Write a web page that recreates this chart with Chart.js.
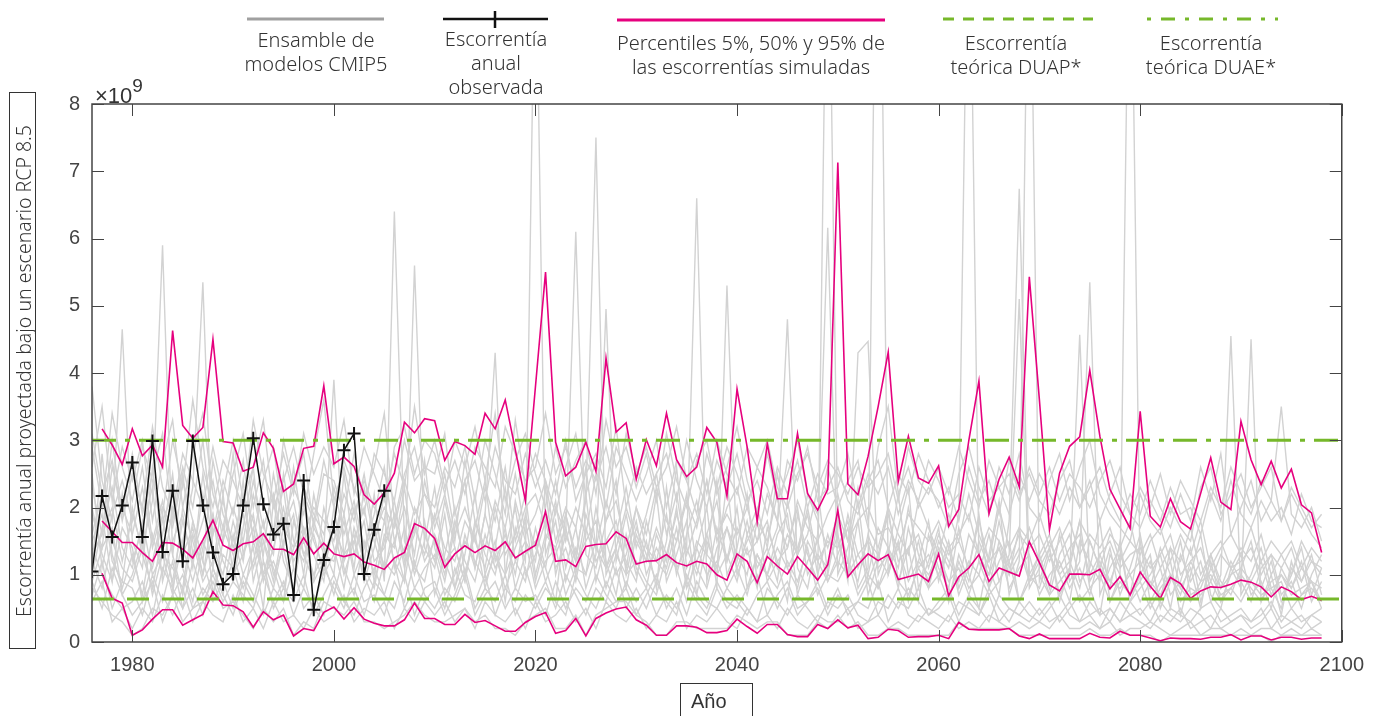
<!DOCTYPE html>
<html lang="es">
<head>
<meta charset="utf-8">
<title>Escorrentía anual proyectada RCP 8.5</title>
<script src="https://cdn.jsdelivr.net/npm/chart.js@4.4.1/dist/chart.umd.min.js"></script>
<style>
  body { margin: 0; background: #fff; }
  #wrap { position: relative; width: 1375px; height: 716px; overflow: hidden; }
  canvas { position: absolute; left: 0; top: 0; }
  .leg { position: absolute; text-align: center; font-family: 'Noto Sans', sans-serif; font-weight: 300;
         font-size: 20px; line-height: 24px; color: #333; white-space: nowrap; transform: translateX(-50%); }
  #ytitle { position: absolute; left: 9px; top: 92px; width: 27px; height: 557px; border: 1px solid #333; box-sizing: border-box; }
  #ytitle span { position: absolute; left: 50%; top: 50%; transform: translate(-50%, -50%) rotate(-90deg);
                 font-family: 'Noto Sans', sans-serif; font-weight: 300; font-size: 19.5px; color: #333; white-space: nowrap; }
  #xtitle { position: absolute; left: 680px; top: 683px; width: 73px; height: 40px; border: 1px solid #333; box-sizing: border-box;
            font-family: 'Liberation Sans', Arial, sans-serif; font-size: 20px; color: #333; padding: 6px 0 0 10px; }
  #expo { position: absolute; left: 95px; top: 78px; font-family: 'Liberation Sans', Arial, sans-serif; font-size: 22px; color: #333; }
  #expo sup { font-size: 19px; position: relative; top: -3px; }
</style>
</head>
<body>
<div id="wrap">
  <canvas id="chart" width="1375" height="716"></canvas>

  <svg width="1375" height="32" style="position:absolute;left:0;top:0">
    <line x1="247" y1="19" x2="384" y2="19" stroke="#a0a0a0" stroke-width="3"/>
    <line x1="443" y1="19" x2="548" y2="19" stroke="#111" stroke-width="2.5"/>
    <line x1="495" y1="11" x2="495" y2="28" stroke="#111" stroke-width="2.5"/>
    <line x1="617" y1="20" x2="885" y2="20" stroke="#e6007e" stroke-width="3"/>
    <line x1="943" y1="19" x2="1093" y2="19" stroke="#76b82a" stroke-width="3" stroke-dasharray="11 9"/>
    <line x1="1147" y1="19" x2="1278" y2="19" stroke="#76b82a" stroke-width="3" stroke-dasharray="4 10 14 10"/>
  </svg>
  <div class="leg" style="left:316px;top:28px">Ensamble de<br>modelos CMIP5</div>
  <div class="leg" style="left:496px;top:27px">Escorrentía<br>anual<br>observada</div>
  <div class="leg" style="left:751px;top:31px">Percentiles 5%, 50% y 95% de<br>las escorrentías simuladas</div>
  <div class="leg" style="left:1016px;top:31px">Escorrentía<br>teórica DUAP*</div>
  <div class="leg" style="left:1211px;top:31px">Escorrentía<br>teórica DUAE*</div>

  <div id="expo">×10<sup>9</sup></div>
  <div id="ytitle"><span>Escorrentía anual proyectada bajo un escenario RCP 8.5</span></div>
  <div id="xtitle">Año</div>
</div>

<script>
// Years
const ensembleStart = 1976;   // gray model runs, 1976-2098
const pctStart = 1977;        // percentiles, 1977-2098
const obsStart = 1976;        // observed, 1976-2005
const xTicks = [1980, 2000, 2020, 2040, 2060, 2080, 2100];
const yTicks = [0, 1, 2, 3, 4, 5, 6, 7, 8];

// Theoretical runoff levels (x10^9)
const duap = 0.64;
const duae = 3.0;

// Observed annual runoff (x10^9)
const observed = [1.05, 2.17, 1.56, 2.03, 2.67, 1.56, 2.99, 1.34, 2.25, 1.20, 2.99, 2.03, 1.33, 0.86, 1.01,
  2.03, 3.03, 2.05, 1.60, 1.76, 0.70, 2.40, 0.48, 1.22, 1.71, 2.85, 3.10, 1.01, 1.67, 2.25];

// Percentiles of simulated runoff
const p95 = [3.17, 2.93, 2.64,
  3.17, 2.77, 2.93, 2.60, 4.63, 3.22, 3.03, 3.19, 4.50, 2.98,
  2.96, 2.54, 2.60, 3.11, 2.88, 2.24, 2.35, 2.88, 2.91, 3.81,
  2.65, 2.75, 2.61, 2.19, 2.05, 2.22, 2.51, 3.27, 3.11, 3.32,
  3.29, 2.70, 2.98, 2.92, 2.79, 3.40, 3.17, 3.60, 2.86, 2.10,
  3.80, 5.50, 2.97, 2.47, 2.60, 2.97, 2.54, 4.22, 3.12, 3.26,
  2.42, 3.01, 2.62, 3.40, 2.71, 2.46, 2.60, 3.19, 2.97, 2.17,
  3.76, 2.90, 1.79, 2.95, 2.13, 2.13, 3.10, 2.21, 1.96, 2.27,
  7.13, 2.35, 2.19, 2.76, 3.50, 4.31, 2.39, 3.06, 2.44, 2.36,
  2.62, 1.72, 1.97, 3.00, 3.88, 1.91, 2.42, 2.75, 2.31, 5.43,
  3.60, 1.67, 2.51, 2.91, 3.05, 4.04, 3.06, 2.27, 1.98, 1.69,
  3.43, 1.87, 1.71, 2.13, 1.79, 1.68, 2.21, 2.74, 2.08, 1.97,
  3.28, 2.71, 2.34, 2.69, 2.29, 2.57, 2.04, 1.92, 1.33];
const p50 = [1.80, 1.64, 1.48,
  1.48, 1.33, 1.20, 1.48, 1.47, 1.38, 1.25, 1.52, 1.81, 1.44,
  1.36, 1.46, 1.49, 1.61, 1.38, 1.38, 1.30, 1.55, 1.31, 1.47,
  1.31, 1.27, 1.31, 1.19, 1.14, 1.08, 1.25, 1.33, 1.76, 1.69,
  1.54, 1.11, 1.31, 1.43, 1.33, 1.43, 1.36, 1.49, 1.25, 1.35,
  1.44, 1.94, 1.20, 1.22, 1.12, 1.42, 1.45, 1.46, 1.64, 1.54,
  1.16, 1.20, 1.21, 1.30, 1.18, 1.13, 1.20, 1.16, 1.00, 0.92,
  1.31, 1.20, 0.88, 1.27, 1.13, 1.01, 1.27, 1.10, 0.92, 1.15,
  1.96, 0.97, 1.15, 1.31, 1.21, 1.30, 0.93, 0.97, 1.01, 0.90,
  1.31, 0.69, 0.97, 1.10, 1.30, 0.90, 1.10, 1.04, 0.98, 1.49,
  1.18, 0.85, 0.76, 1.01, 1.01, 1.00, 1.08, 0.79, 0.97, 0.70,
  1.04, 0.83, 0.65, 0.96, 0.87, 0.65, 0.76, 0.82, 0.81, 0.86,
  0.92, 0.89, 0.82, 0.67, 0.82, 0.75, 0.63, 0.68, 0.62];
const p5 = [1.02, 0.65, 0.58,
  0.10, 0.18, 0.34, 0.48, 0.48, 0.25, 0.33, 0.41, 0.75, 0.55,
  0.54, 0.45, 0.22, 0.45, 0.33, 0.40, 0.09, 0.20, 0.17, 0.44,
  0.52, 0.34, 0.51, 0.34, 0.28, 0.24, 0.24, 0.33, 0.58, 0.35,
  0.35, 0.26, 0.26, 0.41, 0.29, 0.32, 0.24, 0.16, 0.16, 0.29,
  0.38, 0.44, 0.13, 0.17, 0.35, 0.09, 0.35, 0.43, 0.49, 0.52,
  0.33, 0.25, 0.10, 0.10, 0.24, 0.24, 0.22, 0.14, 0.14, 0.17,
  0.34, 0.23, 0.13, 0.26, 0.26, 0.11, 0.08, 0.08, 0.26, 0.20,
  0.33, 0.21, 0.25, 0.05, 0.07, 0.19, 0.17, 0.07, 0.08, 0.08,
  0.10, 0.05, 0.29, 0.19, 0.18, 0.18, 0.18, 0.20, 0.09, 0.05,
  0.12, 0.05, 0.05, 0.05, 0.05, 0.13, 0.07, 0.06, 0.16, 0.10,
  0.10, 0.06, 0.02, 0.06, 0.05, 0.05, 0.04, 0.07, 0.07, 0.11,
  0.03, 0.09, 0.09, 0.03, 0.07, 0.07, 0.04, 0.06, 0.06];

// CMIP5 model ensemble (a subset of runs, x10^9)
const gray01 = [1.2, 0.8, 1.5, 1.1,
  0.9, 1.4, 2.1, 5.9, 1.3, 0.7, 1.6, 1.0, 1.9, 0.8,
  1.2, 2.4, 0.9, 1.5, 1.1, 0.6, 1.8, 1.3, 0.9, 2.0,
  1.4, 0.8, 1.7, 1.2, 2.2, 0.9, 6.4, 1.5, 1.1, 1.8,
  0.7, 1.3, 2.0, 1.0, 1.6, 0.8, 1.4, 2.3, 1.2, 0.9,
  1.7, 1.1, 0.6, 1.9, 1.3, 2.1, 7.5, 1.0, 1.4, 0.8,
  1.6, 1.2, 2.2, 0.9, 1.3, 1.8, 0.7, 1.5, 1.1, 2.4,
  1.0, 1.4, 0.8, 1.7, 1.2, 0.6, 1.9, 1.3, 0.9, 12.0,
  1.5, 1.0, 1.8, 0.7, 1.2, 2.0, 0.9, 1.4, 0.6, 1.6,
  1.1, 0.8, 1.7, 1.0, 0.5, 1.3, 2.1, 0.7, 1.2, 12.0,
  0.9, 1.4, 0.6, 1.1, 1.8, 0.8, 0.4, 1.3, 1.0, 0.7,
  1.5, 0.6, 0.9, 1.2, 0.4, 1.0, 1.6, 0.7, 0.5, 1.1,
  0.8, 4.5, 0.6, 1.0, 0.4, 1.2, 0.7, 0.9, 0.5];
const gray02 = [2.0, 1.3, 0.9, 1.7,
  1.4, 0.6, 1.2, 1.9, 0.8, 1.5, 2.3, 5.35, 1.1, 0.7,
  1.6, 1.0, 1.4, 0.5, 2.1, 1.2, 0.8, 1.7, 1.3, 0.9,
  2.0, 1.1, 0.7, 1.5, 1.0, 1.8, 1.2, 0.9, 5.6, 1.4,
  1.1, 1.9, 0.8, 1.3, 2.2, 1.0, 1.5, 0.6, 1.7, 1.2,
  11.0, 1.3, 1.8, 0.9, 1.4, 1.0, 2.0, 1.2, 0.7, 1.6,
  1.0, 1.5, 0.8, 2.3, 1.1, 1.4, 6.6, 0.9, 1.7, 1.2,
  2.0, 0.8, 1.3, 1.0, 1.6, 1.9, 0.7, 1.2, 1.5, 0.9,
  1.3, 1.7, 0.8, 1.1, 14.0, 1.0, 1.5, 0.6, 1.2, 1.8,
  0.9, 1.4, 0.7, 1.1, 1.9, 0.8, 1.2, 1.5, 0.6, 1.0,
  1.3, 0.8, 1.6, 0.9, 1.2, 5.35, 0.7, 1.1, 1.4, 0.6,
  1.0, 1.3, 0.5, 0.9, 1.5, 0.7, 0.8, 1.2, 0.6, 1.0,
  1.3, 0.7, 0.9, 0.5, 1.1, 0.8, 1.2, 0.6, 0.9];
const gray03 = [3.8, 2.4, 1.8, 4.65,
  1.5, 1.1, 2.6, 1.4, 0.9, 1.8, 1.2, 2.2, 0.7, 1.5,
  2.8, 1.3, 1.9, 1.0, 1.6, 2.3, 1.1, 0.8, 1.7, 1.4,
  1.0, 2.5, 1.3, 1.8, 0.9, 1.5, 2.1, 1.2, 1.6, 2.7,
  1.4, 0.9, 1.7, 2.4, 1.1, 1.9, 1.3, 1.0, 2.1, 1.5,
  1.2, 2.3, 1.0, 1.6, 6.1, 1.3, 1.1, 1.8, 2.4, 1.0,
  1.7, 1.3, 0.9, 1.5, 2.6, 1.1, 1.4, 2.0, 0.8, 5.3,
  1.2, 1.8, 1.1, 1.4, 0.9, 2.1, 1.3, 1.6, 2.3, 1.0,
  1.8, 1.2, 0.9, 1.6, 1.1, 1.3, 2.2, 1.0, 1.5, 0.8,
  1.4, 1.1, 1.9, 12.0, 1.2, 0.8, 1.5, 1.0, 1.7, 0.9,
  1.2, 0.7, 1.3, 1.6, 0.9, 1.1, 1.8, 0.6, 1.0, 12.0,
  0.9, 1.2, 0.6, 1.4, 0.8, 1.1, 0.5, 1.3, 0.9, 0.7,
  1.1, 1.5, 0.8, 1.2, 0.6, 1.0, 1.4, 0.7, 1.1];
const gray04 = [1.6, 2.2, 1.2, 0.9,
  2.0, 1.3, 0.8, 1.6, 2.5, 1.1, 0.6, 1.4, 1.9, 1.2,
  0.9, 1.7, 2.6, 1.2, 0.8, 1.5, 1.9, 1.0, 2.2, 1.4,
  3.9, 1.2, 1.6, 0.9, 1.4, 2.2, 1.1, 1.7, 1.0, 1.5,
  2.3, 1.2, 0.8, 1.6, 1.1, 1.9, 4.3, 1.0, 1.4, 1.8,
  0.9, 1.5, 2.1, 1.1, 1.7, 0.8, 1.3, 4.95, 1.2, 1.9,
  1.1, 0.8, 1.6, 1.2, 2.0, 0.9, 1.5, 1.3, 2.4, 1.0,
  1.4, 2.2, 0.9, 1.3, 1.7, 4.8, 1.1, 0.8, 1.6, 6.16,
  1.0, 1.4, 2.1, 0.9, 1.3, 1.0, 1.7, 2.3, 0.8, 1.2,
  1.7, 0.6, 1.3, 0.9, 1.5, 1.1, 0.7, 1.8, 6.74, 1.0,
  0.8, 1.3, 1.0, 0.6, 1.5, 1.2, 0.9, 1.4, 0.7, 1.1,
  1.6, 0.8, 1.1, 0.5, 1.3, 0.9, 1.2, 0.6, 1.0, 4.55,
  0.7, 1.0, 1.4, 0.8, 0.5, 1.1, 0.9, 1.3, 0.7];
const gray05 = [1.0, 1.7, 2.3, 1.4,
  1.1, 1.8, 1.0, 1.3, 0.7, 2.0, 1.5, 0.9, 1.2, 1.7,
  1.3, 0.8, 1.2, 1.8, 1.0, 1.4, 0.7, 2.1, 1.5, 1.1,
  1.7, 1.3, 2.0, 1.1, 0.8, 1.6, 1.4, 2.3, 1.1, 0.9,
  1.6, 1.2, 1.4, 0.9, 1.8, 1.3, 1.0, 1.7, 0.8, 1.3,
  1.5, 0.9, 1.3, 1.7, 1.0, 1.9, 1.4, 1.1, 1.6, 1.2,
  0.9, 1.8, 1.2, 1.0, 1.5, 2.2, 1.1, 0.8, 1.4, 1.7,
  1.1, 1.5, 1.8, 0.9, 1.2, 1.4, 2.0, 1.0, 1.3, 1.1,
  1.6, 0.9, 4.3, 4.47, 1.0, 1.4, 0.8, 1.7, 1.1, 1.3,
  1.0, 1.5, 0.8, 1.2, 1.0, 1.6, 0.9, 1.3, 5.1, 0.8,
  1.1, 1.4, 0.7, 1.0, 4.57, 0.9, 1.2, 0.8, 1.5, 0.6,
  0.8, 1.0, 1.3, 0.7, 0.9, 1.4, 0.6, 1.1, 0.8, 1.2,
  0.9, 0.6, 1.1, 1.3, 0.7, 0.9, 0.5, 1.0, 1.3];
const gray06 = [2.6, 3.5, 2.1, 2.9,
  2.4, 3.0, 1.8, 2.7, 3.3, 2.0, 2.8, 3.4, 2.2, 1.7,
  2.5, 3.1, 2.0, 2.7, 1.6, 3.0, 2.3, 1.9, 2.8, 3.6,
  2.1, 2.6, 1.9, 2.4, 2.0, 1.8, 2.9, 3.2, 2.5, 3.0,
  2.8, 2.2, 3.0, 2.6, 3.2, 2.4, 3.4, 2.1, 2.7, 3.1,
  2.5, 2.0, 2.9, 2.3, 2.7, 3.0, 2.2, 3.3, 2.6, 2.9,
  2.3, 2.8, 2.1, 3.1, 2.4, 2.0, 2.7, 3.0, 2.2, 2.6,
  3.2, 2.4, 1.9, 2.8, 2.1, 2.5, 3.0, 2.2, 1.9, 2.6,
  2.0, 2.4, 2.7, 1.8, 2.9, 3.5, 2.2, 2.6, 2.0, 2.3,
  2.1, 1.7, 2.5, 2.9, 2.3, 1.9, 2.6, 2.2, 2.8, 2.0,
  1.8, 2.4, 2.8, 2.1, 2.6, 3.0, 2.2, 1.9, 1.7, 1.5,
  2.2, 1.8, 1.6, 2.0, 1.7, 1.5, 2.3, 2.6, 1.9, 2.2,
  2.5, 2.0, 2.3, 2.6, 1.8, 2.2, 1.9, 1.6, 1.4];
const gray07 = [0.8, 0.6, 0.4, 0.3,
  0.1, 0.2, 0.5, 0.4, 0.7, 0.3, 0.5, 0.6, 0.9, 0.5,
  0.6, 0.4, 0.2, 0.5, 0.3, 0.5, 0.1, 0.3, 0.2, 0.6,
  0.5, 0.4, 0.6, 0.3, 0.3, 0.2, 0.3, 0.4, 0.6, 0.4,
  0.3, 0.3, 0.4, 0.5, 0.3, 0.4, 0.2, 0.2, 0.1, 0.3,
  0.4, 0.5, 0.2, 0.2, 0.4, 0.1, 0.4, 0.5, 0.6, 0.6,
  0.4, 0.3, 0.1, 0.1, 0.3, 0.3, 0.2, 0.2, 0.2, 0.2,
  0.4, 0.3, 0.2, 0.3, 0.3, 0.1, 0.1, 0.1, 0.3, 0.2,
  0.4, 0.2, 0.3, 0.1, 0.1, 0.2, 0.2, 0.1, 0.1, 0.1,
  0.1, 0.1, 0.3, 0.2, 0.2, 0.2, 0.2, 0.2, 0.1, 0.1,
  0.1, 0.1, 0.1, 0.1, 0.1, 0.2, 0.1, 0.1, 0.2, 0.1,
  0.1, 0.1, 0.0, 0.1, 0.1, 0.1, 0.1, 0.1, 0.1, 0.1,
  0.1, 0.1, 0.1, 0.0, 0.1, 0.1, 0.1, 0.1, 0.1];
const gray08 = [1.4, 1.0, 0.7, 0.5,
  0.6, 0.9, 0.4, 1.1, 0.8, 0.5, 1.2, 0.7, 1.0, 0.6,
  0.9, 0.7, 0.5, 1.0, 0.6, 0.9, 0.4, 0.8, 0.5, 1.1,
  0.8, 0.5, 1.0, 0.6, 0.7, 0.4, 0.9, 0.6, 1.2, 0.7,
  0.5, 0.8, 0.6, 1.0, 0.4, 0.7, 0.9, 0.5, 0.8, 0.6,
  0.7, 0.4, 0.9, 0.5, 0.8, 0.6, 1.0, 0.7, 0.5, 0.9,
  0.6, 0.8, 0.4, 0.7, 0.5, 0.9, 0.6, 0.4, 0.8, 0.5,
  0.7, 0.5, 0.3, 0.8, 0.6, 0.4, 0.7, 0.5, 0.3, 0.6,
  0.5, 0.7, 0.4, 0.3, 0.6, 0.5, 0.8, 0.4, 0.3, 0.5,
  0.4, 0.3, 0.6, 0.5, 0.4, 0.7, 0.3, 0.5, 0.4, 0.3,
  0.5, 0.3, 0.4, 0.6, 0.3, 0.4, 0.2, 0.5, 0.3, 0.4,
  0.3, 0.2, 0.4, 0.3, 0.5, 0.2, 0.3, 0.4, 0.2, 0.3,
  0.4, 0.2, 0.3, 0.5, 0.2, 0.3, 0.4, 0.2, 0.3];
const gray09 = [1.9, 1.4, 2.6, 2.0,
  1.6, 2.3, 1.4, 2.0, 1.7, 2.5, 1.3, 1.8, 2.4, 1.5,
  2.0, 1.5, 2.4, 1.7, 2.2, 1.4, 2.6, 1.6, 2.0, 1.8,
  1.5, 2.2, 1.8, 2.5, 1.6, 2.0, 1.7, 2.4, 1.9, 2.2,
  1.8, 2.5, 1.6, 2.0, 1.5, 2.3, 1.8, 2.6, 1.5, 2.0,
  2.2, 1.7, 2.4, 1.5, 2.0, 1.6, 2.5, 1.8, 2.1, 1.4,
  2.0, 1.6, 2.3, 1.8, 1.5, 2.1, 1.7, 2.4, 1.6, 1.9,
  1.6, 2.0, 1.5, 2.2, 1.8, 1.4, 2.1, 1.7, 1.5, 1.9,
  2.2, 1.5, 1.8, 2.0, 1.6, 1.7, 1.4, 1.9, 1.7, 1.5,
  1.8, 1.4, 1.6, 1.9, 1.3, 1.7, 1.5, 1.2, 1.6, 1.4,
  1.6, 1.2, 1.5, 1.8, 1.3, 1.6, 1.4, 1.7, 1.2, 1.5,
  1.3, 1.6, 1.1, 1.4, 1.2, 1.7, 1.0, 1.3, 1.5, 1.1,
  1.4, 1.2, 1.6, 1.0, 1.3, 1.5, 1.1, 1.4, 1.2];
const gray10 = [1.1, 2.8, 1.3, 0.8,
  1.3, 0.7, 1.6, 1.0, 2.0, 1.4, 0.9, 1.5, 1.1, 2.2,
  1.0, 1.3, 1.7, 0.9, 1.4, 2.0, 1.2, 1.5, 1.0, 1.3,
  1.2, 1.8, 1.0, 1.4, 1.7, 1.1, 1.5, 0.9, 1.8, 1.2,
  1.5, 1.0, 1.8, 1.2, 0.9, 1.6, 1.1, 1.4, 2.0, 1.0,
  1.3, 1.8, 1.1, 1.4, 0.9, 1.7, 1.2, 1.5, 1.0, 1.3,
  1.8, 1.0, 1.4, 1.1, 1.7, 0.8, 1.2, 1.6, 1.0, 1.3,
  0.9, 1.6, 1.2, 1.0, 1.4, 1.1, 0.8, 1.5, 1.2, 0.9,
  1.2, 1.0, 1.3, 1.5, 0.8, 1.1, 1.4, 0.9, 1.2, 1.0,
  1.3, 0.9, 1.1, 0.7, 1.2, 1.0, 1.4, 0.8, 1.1, 1.3,
  0.7, 1.0, 1.2, 0.8, 1.1, 0.7, 1.3, 0.9, 0.8, 1.0,
  0.6, 0.9, 0.7, 1.0, 0.8, 0.6, 0.9, 1.0, 0.7, 0.8,
  1.0, 0.8, 0.6, 0.9, 1.0, 0.7, 0.8, 0.9, 0.6];
const gray11 = [2.3, 1.6, 3.0, 1.9,
  2.8, 1.9, 2.5, 3.1, 1.8, 2.6, 2.0, 3.0, 1.6, 2.4,
  1.9, 2.7, 1.5, 2.4, 2.9, 1.8, 2.3, 2.8, 1.7, 2.5,
  2.4, 1.9, 2.8, 2.1, 2.6, 3.4, 1.8, 2.5, 2.9, 2.2,
  2.0, 2.6, 2.3, 2.9, 2.1, 3.0, 2.5, 1.9, 3.3, 2.3,
  2.8, 2.4, 1.9, 2.6, 3.1, 2.2, 2.7, 2.0, 2.9, 2.5,
  2.1, 2.5, 3.0, 2.0, 2.7, 2.4, 1.9, 2.8, 2.3, 2.9,
  2.5, 2.0, 2.6, 2.3, 1.8, 2.7, 2.4, 2.9, 2.1, 2.3,
  2.6, 2.1, 1.9, 2.4, 2.7, 2.0, 2.5, 2.2, 2.8, 2.4,
  2.0, 2.3, 1.8, 2.6, 2.1, 2.4, 1.9, 2.7, 2.2, 2.5,
  2.1, 1.9, 2.4, 2.7, 2.0, 2.3, 2.6, 2.1, 1.8, 2.2,
  1.9, 2.4, 2.0, 1.7, 2.2, 1.8, 2.6, 2.1, 2.8, 1.6,
  2.0, 2.4, 1.8, 2.1, 3.5, 1.9, 1.7, 2.0, 1.5];
const gray12 = [0.9, 0.5, 1.1, 0.7,
  0.4, 0.6, 0.9, 0.3, 0.7, 1.0, 0.5, 0.8, 0.6, 0.9,
  0.5, 1.0, 0.7, 0.4, 0.8, 0.6, 1.1, 0.5, 0.7, 0.4,
  0.9, 0.6, 0.4, 0.8, 1.1, 0.7, 0.5, 1.0, 0.4, 0.8,
  0.9, 0.5, 1.1, 0.7, 0.6, 1.0, 0.4, 0.8, 0.6, 1.1,
  0.6, 0.9, 0.5, 1.0, 0.7, 0.4, 0.8, 0.6, 1.1, 0.5,
  0.8, 0.5, 0.9, 0.6, 0.4, 1.0, 0.7, 0.5, 0.9, 0.6,
  0.5, 0.8, 1.0, 0.4, 0.7, 0.9, 0.5, 0.6, 0.8, 0.4,
  0.7, 0.5, 0.6, 0.9, 0.4, 0.7, 0.5, 0.8, 0.6, 0.4,
  0.6, 0.8, 0.4, 0.7, 0.5, 0.3, 0.7, 0.5, 0.4, 0.6,
  0.4, 0.6, 0.3, 0.5, 0.7, 0.4, 0.5, 0.3, 0.6, 0.4,
  0.5, 0.3, 0.6, 0.4, 0.3, 0.5, 0.4, 0.2, 0.5, 0.3,
  0.4, 0.3, 0.5, 0.2, 0.4, 0.3, 0.2, 0.4, 0.3];
const gray13 = [1.5, 1.9, 0.9, 2.2,
  1.2, 1.7, 2.3, 0.9, 1.5, 1.9, 1.1, 2.5, 1.4, 1.0,
  1.8, 1.2, 2.2, 1.5, 0.9, 1.7, 2.1, 1.3, 1.6, 1.0,
  1.3, 1.9, 1.1, 2.3, 1.5, 1.0, 1.8, 1.3, 2.0, 1.6,
  1.2, 2.1, 1.4, 0.9, 1.7, 2.4, 1.2, 1.6, 1.0, 1.9,
  1.4, 1.1, 2.0, 1.6, 1.2, 2.2, 0.9, 1.5, 1.8, 1.1,
  2.0, 1.4, 1.2, 1.9, 1.0, 1.6, 2.1, 1.3, 1.1, 1.7,
  1.3, 1.0, 1.8, 1.5, 2.2, 1.1, 1.4, 1.9, 1.0, 1.6,
  1.1, 1.9, 1.3, 1.0, 1.7, 1.4, 1.1, 2.0, 1.3, 0.9,
  1.5, 1.2, 0.9, 1.6, 1.3, 1.0, 1.8, 1.1, 1.4, 0.9,
  1.3, 1.6, 1.0, 1.2, 0.8, 1.5, 1.1, 0.9, 1.3, 1.0,
  1.2, 0.8, 1.4, 1.0, 0.7, 1.2, 0.9, 1.3, 0.8, 1.0,
  1.1, 0.9, 1.2, 0.7, 1.0, 0.8, 1.1, 0.9, 0.8];
const gray14 = [3.1, 2.2, 2.7, 1.8,
  2.5, 2.0, 3.2, 2.3, 1.9, 2.8, 2.4, 2.0, 2.9, 2.2,
  3.0, 2.1, 2.6, 3.3, 2.0, 2.4, 2.9, 2.2, 1.8, 2.7,
  2.0, 2.7, 2.3, 1.9, 2.8, 2.5, 2.1, 3.0, 2.4, 2.6,
  2.5, 3.1, 1.9, 2.4, 2.7, 2.1, 2.9, 2.4, 2.2, 2.8,
  2.3, 2.7, 2.2, 3.0, 2.1, 2.5, 2.8, 2.3, 3.2, 2.0,
  2.6, 2.2, 2.5, 2.8, 2.1, 3.0, 2.4, 2.0, 2.7, 2.3,
  2.8, 2.1, 2.4, 1.9, 2.6, 2.2, 2.7, 2.0, 2.5, 2.2,
  2.3, 2.8, 2.0, 2.5, 2.2, 2.6, 1.9, 2.4, 2.1, 2.7,
  2.4, 2.0, 2.2, 1.8, 2.6, 2.1, 2.3, 1.9, 2.5, 2.1,
  2.5, 2.2, 1.9, 2.3, 2.0, 2.4, 1.8, 2.2, 2.6, 1.9,
  1.7, 2.1, 1.8, 2.3, 1.9, 2.0, 1.6, 2.2, 1.8, 2.4,
  1.9, 1.7, 2.1, 1.8, 2.0, 1.6, 2.2, 1.8, 1.7];
const gray15 = [0.7, 1.2, 0.5, 0.9,
  0.8, 0.4, 1.0, 0.6, 1.2, 0.5, 0.8, 0.4, 1.1, 0.7,
  0.4, 0.9, 0.6, 1.2, 0.5, 0.8, 0.6, 1.0, 0.4, 0.7,
  1.0, 0.6, 0.8, 0.4, 0.9, 0.7, 1.2, 0.5, 0.8, 0.6,
  0.8, 0.4, 0.7, 1.1, 0.5, 0.8, 0.6, 1.0, 0.4, 0.7,
  0.5, 0.8, 0.6, 0.4, 1.0, 0.7, 0.5, 0.9, 0.6, 0.8,
  0.4, 0.7, 1.0, 0.5, 0.8, 0.4, 0.9, 0.6, 0.5, 0.8,
  0.6, 0.4, 0.7, 0.9, 0.5, 0.8, 0.4, 0.6, 0.9, 0.5,
  0.8, 0.4, 0.6, 0.5, 0.9, 0.3, 0.6, 0.5, 0.8, 0.4,
  0.5, 0.7, 0.3, 0.6, 0.4, 0.8, 0.5, 0.3, 0.6, 0.4,
  0.3, 0.5, 0.7, 0.4, 0.3, 0.6, 0.4, 0.5, 0.3, 0.6,
  0.4, 0.6, 0.3, 0.5, 0.4, 0.3, 0.5, 0.6, 0.3, 0.4,
  0.5, 0.3, 0.4, 0.6, 0.3, 0.5, 0.3, 0.4, 0.5];
const gray16 = [1.3, 1.6, 2.0, 1.2,
  1.9, 1.4, 1.1, 1.8, 2.2, 1.3, 1.7, 1.0, 1.6, 2.1,
  1.4, 1.9, 1.1, 1.6, 1.3, 2.5, 1.5, 1.2, 1.8, 1.3,
  1.7, 1.0, 1.5, 2.0, 1.2, 1.4, 1.9, 1.1, 1.7, 1.3,
  1.9, 1.4, 1.2, 1.8, 1.5, 1.1, 2.0, 1.3, 1.6, 2.2,
  1.0, 1.6, 1.4, 1.9, 1.2, 1.5, 1.8, 1.1, 1.4, 2.0,
  1.5, 1.2, 1.7, 1.3, 1.9, 1.4, 1.0, 1.6, 2.1, 1.2,
  1.7, 1.3, 1.5, 1.8, 1.1, 1.6, 1.3, 2.0, 1.2, 1.5,
  1.4, 1.8, 1.1, 1.5, 1.3, 1.9, 1.2, 1.4, 1.6, 1.1,
  1.6, 1.3, 1.5, 1.1, 1.8, 1.2, 1.4, 1.0, 1.3, 1.7,
  1.2, 1.5, 1.1, 1.4, 1.6, 1.0, 1.3, 1.5, 1.1, 1.3,
  1.4, 1.1, 1.3, 1.6, 1.0, 1.2, 1.4, 0.9, 1.3, 1.1,
  1.2, 1.4, 1.0, 1.3, 1.1, 1.4, 0.9, 1.2, 1.0];
const gray17 = [0.6, 0.9, 0.3, 0.5,
  0.2, 0.5, 0.3, 0.7, 0.4, 0.8, 0.3, 0.6, 0.4, 0.3,
  0.7, 0.3, 0.5, 0.2, 0.6, 0.3, 0.4, 0.2, 0.5, 0.3,
  0.4, 0.7, 0.3, 0.5, 0.4, 0.6, 0.2, 0.5, 0.3, 0.6,
  0.4, 0.6, 0.3, 0.5, 0.2, 0.6, 0.4, 0.3, 0.5, 0.2,
  0.6, 0.3, 0.4, 0.6, 0.3, 0.5, 0.2, 0.6, 0.4, 0.3,
  0.5, 0.2, 0.4, 0.3, 0.6, 0.2, 0.4, 0.3, 0.5, 0.3,
  0.2, 0.5, 0.3, 0.4, 0.2, 0.5, 0.3, 0.2, 0.4, 0.3,
  0.3, 0.5, 0.2, 0.3, 0.4, 0.2, 0.3, 0.2, 0.4, 0.3,
  0.2, 0.4, 0.2, 0.3, 0.2, 0.4, 0.3, 0.2, 0.3, 0.2,
  0.3, 0.2, 0.4, 0.2, 0.2, 0.3, 0.2, 0.3, 0.1, 0.2,
  0.2, 0.3, 0.2, 0.1, 0.2, 0.3, 0.1, 0.2, 0.2, 0.1,
  0.2, 0.1, 0.2, 0.2, 0.1, 0.2, 0.1, 0.2, 0.1];
const gray18 = [2.5, 1.1, 1.9, 2.4,
  1.8, 2.6, 1.5, 2.1, 1.3, 2.4, 1.8, 1.2, 2.7, 1.9,
  1.5, 2.2, 1.8, 1.3, 2.5, 1.7, 1.4, 2.3, 1.9, 1.6,
  2.3, 1.6, 2.1, 1.4, 1.9, 2.6, 1.5, 2.0, 1.3, 2.4,
  1.7, 2.2, 1.5, 2.7, 1.8, 1.4, 2.1, 1.7, 2.5, 1.6,
  1.9, 2.4, 1.5, 2.0, 1.7, 2.6, 1.4, 2.1, 1.6, 2.3,
  1.4, 1.9, 2.5, 1.6, 2.2, 1.3, 1.8, 2.4, 1.5, 2.0,
  2.3, 1.6, 2.0, 1.4, 2.5, 1.7, 1.3, 2.2, 1.8, 1.4,
  1.9, 1.5, 2.3, 1.7, 1.4, 2.0, 1.6, 1.3, 2.1, 1.7,
  1.3, 1.9, 1.5, 2.2, 1.6, 1.2, 2.0, 1.4, 1.7, 1.5,
  1.9, 1.4, 1.7, 1.2, 1.8, 1.5, 1.1, 1.6, 1.4, 1.8,
  1.1, 1.5, 1.7, 1.2, 1.6, 1.3, 1.8, 1.1, 1.4, 1.6,
  1.3, 1.7, 1.2, 1.5, 1.3, 1.0, 1.5, 1.2, 1.1];
const gray19 = [0.9, 1.4, 1.7, 0.7,
  1.0, 1.5, 0.7, 1.3, 1.1, 0.8, 1.8, 1.2, 0.7, 1.3,
  1.1, 0.6, 1.5, 1.0, 1.2, 0.8, 1.4, 1.7, 0.9, 1.2,
  0.7, 1.3, 1.5, 1.0, 0.6, 1.2, 1.0, 1.4, 0.8, 1.1,
  1.3, 0.7, 1.0, 1.5, 1.2, 0.9, 1.3, 0.8, 1.2, 1.5,
  0.8, 1.2, 1.4, 0.7, 1.1, 1.0, 1.5, 0.8, 1.3, 1.0,
  1.2, 0.9, 0.7, 1.3, 1.1, 0.6, 1.4, 1.0, 1.2, 0.8,
  1.1, 0.7, 1.3, 1.0, 0.8, 1.2, 0.9, 1.4, 0.7, 1.0,
  0.9, 1.2, 0.7, 1.0, 0.8, 1.3, 0.9, 0.7, 1.1, 0.8,
  1.0, 0.6, 1.2, 0.8, 1.0, 0.7, 0.9, 1.2, 0.6, 0.9,
  1.0, 0.7, 0.9, 1.1, 0.6, 0.8, 1.0, 0.6, 0.9, 0.7,
  0.9, 0.5, 0.8, 1.0, 0.6, 0.8, 0.7, 0.9, 0.6, 0.8,
  0.6, 0.9, 0.7, 0.8, 0.9, 0.5, 0.7, 0.8, 0.6];
const gray20 = [2.9, 2.0, 3.4, 2.6,
  2.1, 2.9, 2.4, 1.9, 3.0, 2.3, 3.6, 2.6, 2.0, 2.7,
  2.4, 2.0, 3.3, 2.5, 2.1, 2.8, 2.2, 3.1, 2.5, 2.9,
  2.6, 3.3, 2.2, 2.9, 2.5, 2.1, 2.8, 2.3, 3.5, 2.5,
  3.0, 2.3, 2.7, 2.2, 2.9, 2.6, 2.3, 3.2, 2.8, 2.4,
  2.6, 3.4, 2.5, 2.9, 2.3, 2.7, 2.4, 2.9, 2.2, 3.1,
  2.5, 2.9, 2.3, 2.6, 3.2, 2.4, 2.8, 2.2, 3.0, 2.5,
  2.2, 2.9, 2.6, 3.0, 2.3, 2.0, 2.5, 2.8, 2.3, 2.7,
  2.5, 2.2, 2.6, 2.3, 2.5, 2.8, 2.1, 2.9, 2.4, 2.2,
  2.6, 2.2, 2.9, 2.4, 2.0, 2.7, 2.3, 2.5, 2.1, 2.6,
  2.2, 2.6, 2.1, 2.5, 2.3, 2.0, 2.4, 2.7, 2.2, 1.9,
  2.3, 2.0, 2.5, 1.9, 2.4, 2.1, 1.8, 2.3, 2.0, 2.6,
  2.2, 1.9, 2.4, 2.1, 1.8, 2.3, 2.0, 1.7, 1.9];
const ensemble = [gray01, gray02, gray03, gray04, gray05, gray06, gray07, gray08, gray09, gray10,
  gray11, gray12, gray13, gray14, gray15, gray16, gray17, gray18, gray19, gray20];

// Colors
const colors = {
  model: '#d2d2d2',
  observed: '#111111',
  percentile: '#e6007e',
  duap: '#76b82a',
  axis: '#444444',
  text: '#444444'
};

function toPoints(startYear, values) {
  return values.map((v, i) => ({ x: startYear + i, y: v }));
}

const datasets = [];

// observed on top
datasets.push({
  data: toPoints(obsStart, observed),
  borderColor: colors.observed, borderWidth: 1.5,
  pointStyle: 'cross', pointRadius: 6.5, pointBorderWidth: 2, pointBorderColor: colors.observed,
  order: 0
});

// theoretical levels
datasets.push({
  data: [{ x: ensembleStart, y: duae }, { x: 2100, y: duae }],
  borderColor: colors.duap, borderWidth: 3, borderDash: [24, 9, 5, 9], pointRadius: 0, order: 1
});
datasets.push({
  data: [{ x: ensembleStart, y: duap }, { x: 2100, y: duap }],
  borderColor: colors.duap, borderWidth: 3, borderDash: [22, 13], pointRadius: 0, order: 1
});

// percentiles
[p95, p50, p5].forEach(p => {
  datasets.push({
    data: toPoints(pctStart, p),
    borderColor: colors.percentile, borderWidth: 1.6, pointRadius: 0, order: 2
  });
});

// model ensemble at the bottom
ensemble.forEach(g => {
  datasets.push({
    data: toPoints(ensembleStart, g),
    borderColor: colors.model, borderWidth: 1.4, pointRadius: 0, order: 3
  });
});

// inward ticks + box, MATLAB style
const framePlugin = {
  id: 'frame',
  afterDatasetsDraw(chart) {
    const { ctx, chartArea: a, scales: { x, y } } = chart;
    const len = 12;
    ctx.save();
    ctx.strokeStyle = colors.axis;
    ctx.lineWidth = 1;
    ctx.beginPath();
    xTicks.forEach(v => {
      const px = Math.round(x.getPixelForValue(v)) + 0.5;
      ctx.moveTo(px, a.bottom); ctx.lineTo(px, a.bottom - len);
      ctx.moveTo(px, a.top); ctx.lineTo(px, a.top + len);
    });
    yTicks.forEach(v => {
      const py = Math.round(y.getPixelForValue(v)) + 0.5;
      ctx.moveTo(a.left, py); ctx.lineTo(a.left + len, py);
      ctx.moveTo(a.right, py); ctx.lineTo(a.right - len, py);
    });
    ctx.stroke();
    ctx.lineWidth = 1.5;
    ctx.strokeRect(a.left, a.top, a.right - a.left, a.bottom - a.top);
    ctx.restore();
  }
};

new Chart(document.getElementById('chart').getContext('2d'), {
  type: 'line',
  data: { datasets },
  options: {
    responsive: false,
    animation: false,
    devicePixelRatio: 1,
    layout: { padding: { left: 0, top: 104, right: 30, bottom: 0 } },
    elements: { line: { tension: 0 } },
    datasets: { line: { clip: 0, spanGaps: false } },
    plugins: { legend: { display: false }, tooltip: { enabled: false } },
    scales: {
      x: {
        type: 'linear', min: 1976, max: 2100,
        grid: { display: false, drawTicks: false },
        border: { display: false },
        afterBuildTicks: s => { s.ticks = xTicks.map(v => ({ value: v })); },
        afterFit: s => { s.height = 74; },
        ticks: { padding: 11, maxRotation: 0, color: colors.text,
                 callback: v => String(v),
                 font: { family: "'Liberation Sans', Arial, sans-serif", size: 20 } }
      },
      y: {
        min: 0, max: 8,
        grid: { display: false, drawTicks: false },
        border: { display: false },
        afterBuildTicks: s => { s.ticks = yTicks.map(v => ({ value: v })); },
        afterFit: s => { s.width = 92; },
        ticks: { padding: 12, color: colors.text,
                 font: { family: "'Liberation Sans', Arial, sans-serif", size: 20 } }
      }
    }
  },
  plugins: [framePlugin]
});
</script>
</body>
</html>
